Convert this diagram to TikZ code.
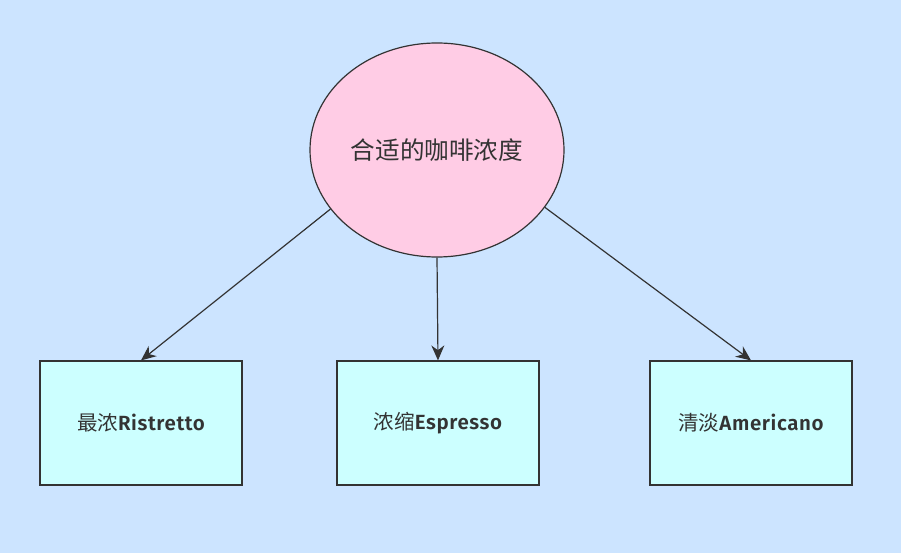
\documentclass[tikz,border=0pt]{standalone}
\usepackage{fontspec}
\setmainfont{Noto Sans CJK SC}
\newfontfamily\latinbold{Fira Sans}[UprightFont=* SemiBold, LetterSpace=3]
\usetikzlibrary{arrows.meta,positioning,shapes.geometric}
\definecolor{bgblue}{RGB}{204,228,255}
\definecolor{ellpink}{RGB}{255,204,229}
\definecolor{boxcyan}{RGB}{204,255,255}
\definecolor{inkgrey}{RGB}{51,51,51}
\newcommand{\lat}[1]{{\latinbold #1}}

\begin{document}
\begin{tikzpicture}[
  x=1pt, y=-1pt, font=\fontsize{20.5}{24}\selectfont, text=inkgrey,
  goal/.style={draw=inkgrey, line width=1.2pt, ellipse, fill=ellpink, minimum width=254pt, minimum height=214pt, inner sep=0pt},
  kind/.style={draw=inkgrey, line width=1.2pt, fill=boxcyan, minimum width=202pt, minimum height=124pt, inner sep=0pt},
  pf/.style={draw=inkgrey, line width=1.2pt, -{Stealth[length=15pt, width=13pt]}}
]
\fill[bgblue] (0,0) rectangle (901,553);
\useasboundingbox (0,0) rectangle (901,553);
\node[goal] (ell) at (437,150) {\fontsize{24.6}{28}\selectfont 合适的咖啡浓度};
\node[kind] (b1) at (141,423) {最浓\lat{Ristretto}};
\node[kind] (b2) at (438,423) {浓缩\lat{Espresso}};
\node[kind] (b3) at (751,423) {清淡\lat{Americano}};
\draw[pf] (ell.209)--(b1.north); \draw[pf] (ell.south)--(b2.north);
\draw[pf] (ell.332)--(b3.north);
\end{tikzpicture}
\end{document}
